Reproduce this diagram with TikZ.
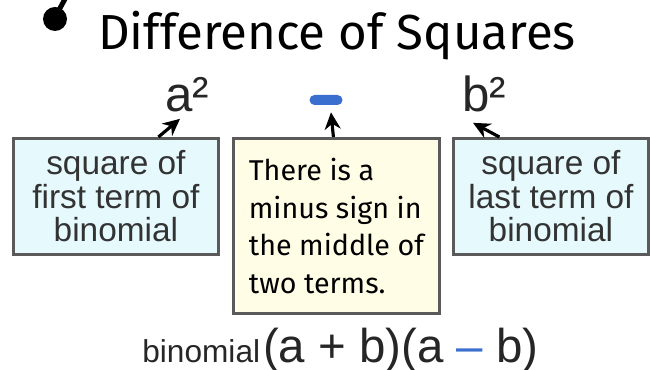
\documentclass[tikz,border=0pt]{standalone}
\usepackage{fontspec}
\setmainfont{Liberation Sans}
\newfontfamily\handfont{Fira Sans}
\usepackage{tikz}
\usetikzlibrary{positioning, arrows.meta, calc}
\definecolor{boxcyan}{HTML}{E6FAFD}
\definecolor{boxyellow}{HTML}{FFFDE6}
\definecolor{boxedge}{HTML}{5A5A5A}
\definecolor{minusblue}{HTML}{3A6FD0}
\tikzset{termbox/.style={rectangle, draw=boxedge, line width=1.6pt, fill=boxcyan, minimum width=4.1cm, minimum height=2.32cm, align=center, text=black!80, font=\fontsize{19}{19}\selectfont}}
\tikzset{notebox/.style={rectangle, draw=boxedge, line width=1.6pt, fill=boxyellow, minimum width=4.12cm, minimum height=3.5cm, align=left, font=\handfont\fontsize{16.3}{21.4}\selectfont}}
\tikzset{term/.style={inner sep=0pt, anchor=base, text=black!85, font=\fontsize{28}{28}\selectfont}}
\tikzset{line/.style={draw, line width=1.8pt, -{Stealth[length=3.4mm, width=3.2mm]}}}

\begin{document}
\begin{tikzpicture}
        \useasboundingbox (0,0) rectangle (13,-7.4);
        % bullet
        \fill (1.1,-0.38) circle (0.24);
        \draw[line width=0.1cm] (1.18,-0.2) -- (1.3,0.02);
        \node[anchor=base, inner sep=0pt, font=\handfont\fontsize{28}{28}\selectfont] (title) at (6.74,-1.0) {Difference of Squares};
        \node[term] (asq) at (3.74,-2.24) {a²};
        \node[rectangle, fill=minusblue, rounded corners=0.1cm, minimum width=0.66cm, minimum height=0.2cm, inner sep=0pt] (minus) at (6.52,-2.0) {};
        \node[term] (bsq) at (9.68,-2.24) {b²};
        \node[termbox, anchor=north west] (lbox) at (0.24,-2.74) {square of\\first term of\\binomial};
        \node[notebox, anchor=north west] (mbox) at (4.64,-2.74) {There is a\\minus sign in\\the middle of\\two terms.};
        \node[termbox, anchor=north west, minimum width=3.9cm] (rbox) at (9.04,-2.74) {square of\\last term of\\binomial};
        \path[line] ([xshift=0.85cm]lbox.north) -- ([xshift=-0.14cm,yshift=-0.12cm]asq.south);
        \path[line] ([xshift=-0.06cm]mbox.north) -- ([xshift=0.1cm,yshift=-0.14cm]minus.south);
        \path[line] ([xshift=-1.03cm]rbox.north) -- ([xshift=-0.22cm,yshift=-0.2cm]bsq.south);
        \node[anchor=base west, inner sep=0pt, text=black!85] (prod) at (2.84,-7.24) {{\fontsize{18}{18}\selectfont binomial}\,{\fontsize{27}{27}\selectfont (a + b)(a \textcolor{minusblue}{–} b)}};
\end{tikzpicture}
\end{document}
